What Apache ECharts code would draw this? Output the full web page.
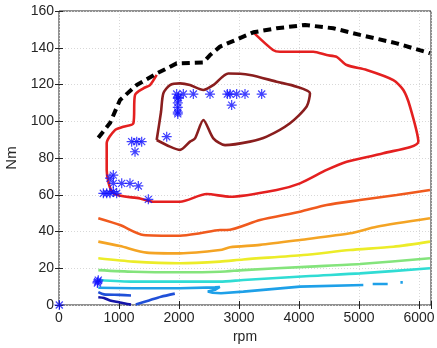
<!DOCTYPE html>
<html><head><meta charset="utf-8">
<script src="https://cdn.jsdelivr.net/npm/echarts@6/dist/echarts.min.js"></script>
<style>html,body{margin:0;padding:0;background:#fff}#c{width:437px;height:348px}</style>
</head><body><div id="c"></div>
<script>
// x: rpm, y: Nm
const xTicks = [0,1000,2000,3000,4000,5000,6000];
const yTicks = [0,20,40,60,80,100,120,140,160];

const maxTorque = [[655,91],[850,99],[1017,111.6],[1295,119.7],[1628,126],[1961,131.5],[2405,132],[2517,136],[2683,140.6],[3239,148.4],[3628,150.6],[4100,152.4],[4572,150.6],[5017,147],[5628,142.4],[6183,137]];

const cMaroon = [[1628,89.8],[1700,105],[1739,115.2],[1850,119.7],[2017,120.6],[2183,119.7],[2406,117],[2572,119.7],[2822,126],[3183,125.2],[3628,121.5],[3961,118.8],[4183,115.2],[4128,108],[3850,98.9],[3461,91.6],[3183,88.9],[2767,87],[2572,90.7],[2406,100.7],[2267,90.7],[2183,88.9],[2017,84.4],[1850,86.2],[1628,89.8]];

const cRed = [[3239,148.4],[3567,138.8],[3683,137.8],[4239,137.8],[4461,136],[4628,135],[4795,130.6],[5128,127.9],[5572,122.4],[5739,117],[5850,108],[5989,88.9],[5406,82.6],[4795,78],[4461,73.5],[4017,66.2],[3628,62.6],[2850,58.9],[2461,60.4],[2017,56.2],[1572,56.2],[1350,58],[905,60.8],[795,73.5],[795,88],[933,95.2],[1072,97],[1239,98.9],[1267,114.3],[1406,117.9],[1517,119.7],[1628,125.2]];

const cOrangeRed = [[655,47.2],[1017,43.5],[1406,38.1],[2017,37.7],[2350,39],[2683,40.8],[2794,40.8],[3350,46.3],[4017,50.8],[4461,54.4],[5017,57.1],[5628,59.9],[6183,62.6]];
const cOrange = [[655,34.5],[1017,32.1],[1461,28.5],[2017,28.1],[2683,29.9],[2850,31.4],[3350,32.7],[4017,35.4],[4850,39],[5295,42.6],[6183,47.2]];
const cYellow = [[655,25.4],[1239,23.6],[2017,22.7],[2683,23.6],[3072,24.8],[4072,27.2],[4850,29.9],[5572,31.7],[6183,34.5]];
const cGreen = [[655,19],[1239,18.1],[2017,17.8],[2683,18.1],[3072,19],[4183,20.9],[5017,22.3],[6183,25.4]];
const cCyan = [[655,13.6],[1239,12.7],[2017,12.7],[2683,12.7],[3072,13.6],[4183,15.8],[5017,17.2],[6183,20]];
const cSky = [[655,9.4],[1239,9.1],[2017,9.1],[2600,9.6],[2680,9.8],[2700,9.2],[2600,8.3],[2480,7.3],[2560,6.7],[2700,6.4],[3072,7.3],[4017,10],[5072,10.9],null,[5228,11.4],[5478,11.4],null,[5690,12.3],[5730,12.3]];
const cBlue = [[655,7.0],[750,5.8],[1000,5.5],[1200,5.2],null,[1280,0.3],[1500,2.5],[1700,4.5],[1930,6.2]];
const cDarkBlue = [[655,4.2],[750,3.8],[850,2.5],[1000,1.5],[1100,0.8],[1200,0.2]];

const points = [[905,70.7],[850,69],[905,66.2],[905,61.7],[739,60.8],[795,60.8],[850,60.8],[961,60.8],[1045,66.2],[1183,66.2],[1322,64.8],[1489,57.5],[1211,88.9],[1295,88.9],[1378,88.9],[1267,83.4],[1795,91.6],[1961,114.8],[2072,114.8],[2239,114.8],[2517,114.8],[2806,114.8],[2850,114.8],[2961,114.8],[3100,114.8],[3378,114.8],[2878,108.8],[1980,112.5],[1980,110],[1980,107.5],[1980,105],[1980,104],[1990,113],[645,12.7],[655,13.5],[640,12],[5,0]];

const star = 'path://M0 8.8 L20 8.8 L20 11.2 L0 11.2 Z M8.8 0 L11.2 0 L11.2 20 L8.8 20 Z M3.8 2.1 L17.9 16.2 L16.2 17.9 L2.1 3.8 Z M16.2 2.1 L17.9 3.8 L3.8 17.9 L2.1 16.2 Z';

function line(data, color, extra) {
  return Object.assign({type:'line', data:data, symbol:'none', connectNulls:false, silent:true, smooth:0.25,
    lineStyle:{color:color, width:2.6}, z:2}, extra||{});
}
const font = {fontFamily:'Liberation Sans, Arial, sans-serif', fontSize:14, color:'#262626'};
const chart = echarts.init(document.getElementById('c'));
chart.setOption({
  animation:false,
  grid:{left:59, top:11, width:372, height:294, show:true, borderColor:'#222', borderWidth:1,
        containLabel:false, outerBoundsMode:'none'},
  xAxis:[{type:'value', min:0, max:6200, interval:1000, name:'rpm', nameLocation:'middle', nameGap:24,
    nameTextStyle:font,
    axisLine:{show:false}, axisTick:{inside:true, length:4, lineStyle:{color:'#222'}},
    axisLabel:Object.assign({margin:6, formatter:v=> xTicks.includes(v)? String(v):''}, font),
    splitLine:{show:true, lineStyle:{color:'#d8d8d8', type:[1,2]}}},
    {type:'value', position:'top', min:0, max:6200, interval:1000, axisLine:{show:false}, axisLabel:{show:false},
     axisTick:{inside:true, length:4, lineStyle:{color:'#222'}}, splitLine:{show:false}}],
  yAxis:[{type:'value', min:0, max:160, interval:20, name:'Nm', nameLocation:'middle', nameGap:38,
    nameTextStyle:Object.assign({}, font, {fontSize:15}),
    axisLine:{show:false}, axisTick:{inside:true, length:4, lineStyle:{color:'#222'}},
    axisLabel:Object.assign({margin:5, formatter:v=> yTicks.includes(v)? String(v):''}, font),
    splitLine:{show:true, lineStyle:{color:'#d8d8d8', type:[1,2]}}},
    {type:'value', position:'right', min:0, max:160, interval:20, axisLine:{show:false}, axisLabel:{show:false},
     axisTick:{inside:true, length:4, lineStyle:{color:'#222'}}, splitLine:{show:false}}],
  series:[
    line(cDarkBlue,'#1414a8'),
    line(cBlue,'#2050d8'),
    line(cSky,'#1ea0e8', {smooth:false}),
    line(cCyan,'#30dcd4'),
    line(cGreen,'#84e47c'),
    line(cYellow,'#ecec28'),
    line(cOrange,'#f4a424'),
    line(cOrangeRed,'#f05a1e'),
    line(cRed,'#e42020'),
    line(cMaroon,'#8a1e1e'),
    line(maxTorque,'#000', {smooth:false, lineStyle:{color:'#000', width:4, type:[8,5]}, z:3}),
    {type:'scatter', data:points, symbol:star, symbolSize:10, itemStyle:{color:'#1010ff'}, z:4, silent:true}
  ]
});
</script></body></html>
